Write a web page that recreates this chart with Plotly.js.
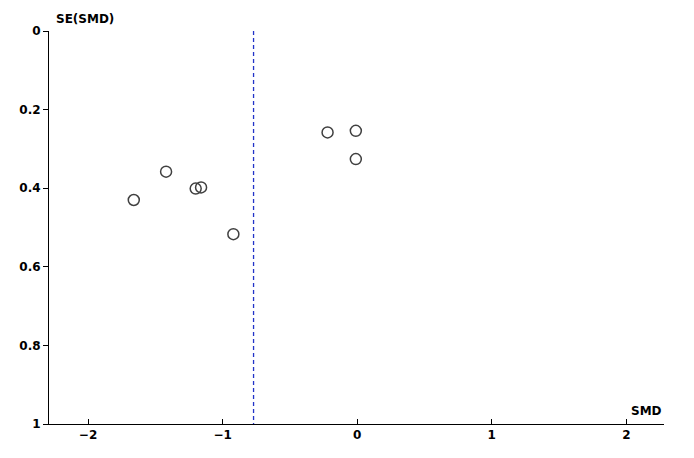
<!DOCTYPE html>
<html>
<head>
<meta charset="utf-8">
<script src="https://cdn.plot.ly/plotly-3.0.1.min.js"></script>
<style>
  html, body { margin: 0; padding: 0; background: #fff; }
  #chart { width: 694px; height: 458px; }
</style>
</head>
<body>
<div id="chart"></div>
<script>
// study estimates
const smd = [-1.66, -1.42, -1.20, -1.16, -0.92, -0.22, -0.01, -0.01]
const seSmd = [0.430, 0.358, 0.401, 0.398, 0.517, 0.258, 0.254, 0.326]
// pooled estimate (dashed line)
const pooledSmd = [-0.77, -0.77]
const pooledSe = [0, 1]
const xTicks = [-2, -1, 0, 1, 2]
const yTicks = [0, 0.2, 0.4, 0.6, 0.8, 1]

const labelFont = { family: 'DejaVu Sans, Verdana, sans-serif', size: 12, color: '#000', weight: 'bold' }

const data = [
  {
    x: pooledSmd,
    y: pooledSe,
    type: 'scatter',
    mode: 'lines',
    line: { color: '#2233c8', width: 1.3, dash: '4px,3px' },
    hoverinfo: 'skip'
  },
  {
    x: smd,
    y: seSmd,
    type: 'scatter',
    mode: 'markers',
    marker: {
      symbol: 'circle-open',
      size: 11,
      color: '#404040',
      line: { width: 1.5, color: '#404040' }
    }
  }
]

const layout = {
  width: 694,
  height: 458,
  margin: { l: 49, r: 30, t: 31, b: 34 },
  paper_bgcolor: '#fff',
  plot_bgcolor: '#fff',
  showlegend: false,
  xaxis: {
    range: [-2.29, 2.28],
    tickvals: xTicks,
    ticks: 'inside',
    ticklen: 5,
    tickcolor: '#000',
    tickwidth: 1,
    showgrid: false,
    zeroline: false,
    showline: true,
    linecolor: '#000',
    linewidth: 1,
    tickfont: labelFont,
    anchor: 'y'
  },
  xaxis2: {
    range: [-2.29, 2.28],
    tickvals: xTicks,
    ticks: 'outside',
    ticklen: 4,
    tickcolor: '#000',
    showticklabels: false,
    showgrid: false,
    zeroline: false,
    overlaying: 'x',
    anchor: 'y',
    side: 'bottom'
  },
  yaxis: {
    range: [1, 0],
    tickvals: yTicks,
    ticks: 'outside',
    ticklen: 5,
    tickcolor: '#000',
    showgrid: false,
    zeroline: false,
    showline: true,
    linecolor: '#000',
    linewidth: 1,
    tickfont: labelFont
  },
  annotations: [
    {
      text: 'SE(SMD)',
      xref: 'paper', yref: 'paper',
      x: 0.008, y: 1,
      xanchor: 'left', yanchor: 'bottom',
      yshift: 3,
      showarrow: false,
      font: labelFont
    },
    {
      text: 'SMD',
      xref: 'paper', yref: 'paper',
      x: 1, y: 0,
      xanchor: 'right', yanchor: 'bottom',
      yshift: 4,
      showarrow: false,
      font: labelFont
    }
  ]
}

Plotly.newPlot('chart', data, layout, { displayModeBar: false, staticPlot: true })
</script>
</body>
</html>
